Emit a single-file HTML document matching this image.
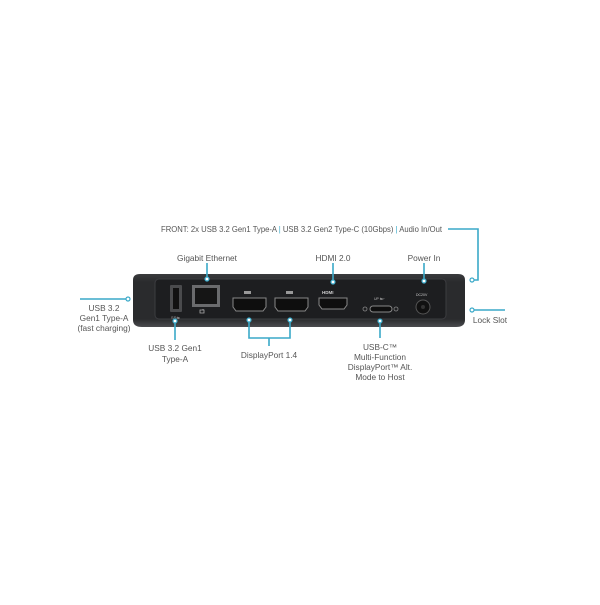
<!DOCTYPE html>
<html><head><style>
body{margin:0;width:600px;height:600px;background:#fff;overflow:hidden}
svg text{font-family:"Liberation Sans",sans-serif;font-size:8.3px;fill:#555}
</style></head><body>
<svg width="600" height="600" viewBox="0 0 600 600">
<defs><linearGradient id="b" x1="0" y1="0" x2="0" y2="1"><stop offset="0" stop-color="#3a3b3d"/><stop offset="0.15" stop-color="#2a2b2d"/><stop offset="0.85" stop-color="#2a2b2d"/><stop offset="1" stop-color="#4a4b4e"/></linearGradient></defs>
<path d="M133 280 Q133 274 140 274 L458 274 Q465 274 465 280 L465 320 Q465 327 456 327 L142 327 Q133 327 133 320 Z" fill="url(#b)"/>
<rect x="155" y="279" width="291" height="40" rx="4" fill="#1d1e20" stroke="#3c3d40" stroke-width="1"/>
<rect x="170" y="285" width="12" height="27" rx="1" fill="#4a4b4d"/><rect x="173" y="288" width="6" height="21" fill="#111"/>
<text x="171" y="319" style="font-size:4px;fill:#aaa">SS⇆</text>
<rect x="192" y="285" width="28" height="22" fill="#6a6b6d"/><rect x="195" y="288" width="22" height="16" fill="#151515"/>
<path d="M200 310h4v3h-4zM203 310v-1" stroke="#aaa" fill="none" stroke-width="0.8"/>
<path d="M233 298h33v9l-3 4h-27l-3-4z" fill="#0e0e0e" stroke="#888" stroke-width="1"/>
<path d="M275 298h33v9l-3 4h-27l-3-4z" fill="#0e0e0e" stroke="#888" stroke-width="1"/>
<rect x="244" y="291" width="7" height="3" fill="#999"/><rect x="286" y="291" width="7" height="3" fill="#999"/>
<path d="M319 298h28v7l-3 4h-22l-3-4z" fill="#0e0e0e" stroke="#888" stroke-width="1"/>
<text x="322" y="294" style="font-size:4.5px;fill:#ccc;font-weight:bold">HDMI</text>
<rect x="370" y="306" width="22" height="6" rx="3" fill="#0e0e0e" stroke="#888"/>
<circle cx="365" cy="309" r="2" fill="none" stroke="#888" stroke-width="0.8"/><circle cx="396" cy="309" r="2" fill="none" stroke="#888" stroke-width="0.8"/>
<text x="374" y="300" style="font-size:3.5px;fill:#bbb">UP ⇆⌐</text>
<circle cx="423" cy="307" r="7" fill="#111" stroke="#555"/><circle cx="423" cy="307" r="2" fill="#333"/>
<text x="416" y="296" style="font-size:3.5px;fill:#ccc">DC20V</text>
<g stroke="#3aa9c8" stroke-width="1.6" fill="none">
<path d="M448 229H478V280H474"/>
<path d="M80 299H126"/>
<path d="M474 310H505"/>
<path d="M207 263V277M333 263V280M424 263V279"/>
<path d="M175 323V340"/>
<path d="M249 322V338H290V322M269 338V346"/>
<path d="M380 323V338"/>
</g>
<g stroke="#3aa9c8" stroke-width="1.2" fill="#fff">
<circle cx="472" cy="280" r="2"/><circle cx="128" cy="299" r="2"/><circle cx="472" cy="310" r="2"/>
<circle cx="207" cy="279" r="2"/><circle cx="333" cy="282" r="2"/><circle cx="424" cy="281" r="2"/>
<circle cx="175" cy="321" r="2"/><circle cx="249" cy="320" r="2"/><circle cx="290" cy="320" r="2"/><circle cx="380" cy="321" r="2"/>
</g>
<text x="161" y="232" textLength="281" lengthAdjust="spacingAndGlyphs">FRONT: 2x USB 3.2 Gen1 Type-A <tspan fill="#3aa9c8">|</tspan> USB 3.2 Gen2 Type-C (10Gbps) <tspan fill="#3aa9c8">|</tspan> Audio In/Out</text>
<g text-anchor="middle">
<text x="207" y="261">Gigabit Ethernet</text>
<text x="333" y="261">HDMI 2.0</text>
<text x="424" y="261">Power In</text>
<text x="104" y="311">USB 3.2</text>
<text x="104" y="321">Gen1 Type-A</text>
<text x="104" y="331">(fast charging)</text>
<text x="490" y="323">Lock Slot</text>
<text x="175" y="351">USB 3.2 Gen1</text>
<text x="175" y="362">Type-A</text>
<text x="269" y="358">DisplayPort 1.4</text>
<text x="380" y="350">USB-C™</text>
<text x="380" y="360">Multi-Function</text>
<text x="380" y="370">DisplayPort™ Alt.</text>
<text x="380" y="380">Mode to Host</text>
</g>
</svg>
</body></html>
